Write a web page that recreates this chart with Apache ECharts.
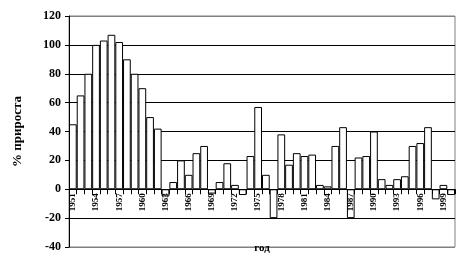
<!DOCTYPE html>
<html><head><meta charset="utf-8">
<script src="https://cdn.jsdelivr.net/npm/echarts@6/dist/echarts.min.js"></script>
<style>html,body{margin:0;padding:0;background:#fff}#c{width:470px;height:264px}</style>
</head><body><div id="c"></div>
<script>
const years = ['1951','1952','1953','1954','1955','1956','1957','1958','1959','1960',
  '1961','1962','1963','1964','1965','1966','1967','1968','1969','1970',
  '1971','1972','1973','1974','1975','1976','1977','1978','1979','1980',
  '1981','1982','1983','1984','1985','1986','1987','1988','1989','1990',
  '1991','1992','1993','1994','1995','1996','1997','1998','1999','2000'];
const growth = [45, 65, 80, 100, 103, 107, 102, 90, 80, 70,
  50, 42, -5, 5, 20, 10, 25, 30, -3, 5,
  18, 3, -4, 23, 57, 10, -20, 38, 17, 25,
  23, 24, 3, 2, 30, 43, -20, 22, 23, 40,
  7, 3, 7, 9, 30, 32, 43, -7, 3, -4];
const yMin = -40, yMax = 120, yStep = 20;
const yTitle = '% прироста';
const xTitle = 'год';

const font = '"Liberation Serif", "Times New Roman", serif';
const gridTop = 16, gridBottom = 17, H = 264;
const plotH = H - gridTop - gridBottom;
// distance from plot bottom (yMin) up to the zero line, from the y scale
const zeroOffset = plotH * (0 - yMin) / (yMax - yMin);

const chart = echarts.init(document.getElementById('c'), null, {renderer: 'canvas'});
chart.setOption({
  animation: false,
  backgroundColor: '#fff',
  grid: {left: 69, right: 15, top: gridTop, bottom: gridBottom, containLabel: false, outerBoundsMode: 'none',
    show: true, borderColor: '#808080', borderWidth: 1, backgroundColor: 'transparent'},
  xAxis: {
    type: 'category', data: years, boundaryGap: true, position: 'bottom', offset: -zeroOffset, z: 10,
    axisLine: {onZero: false, lineStyle: {color: '#000', width: 1}},
    axisTick: {show: true, interval: 0, length: 5, lineStyle: {color: '#000'}},
    axisLabel: {interval: 2, rotate: 90, margin: 4, fontFamily: font, fontWeight: 'bold', fontSize: 9, color: '#000'},
    name: xTitle, nameLocation: 'middle', nameGap: 53,
    nameTextStyle: {fontFamily: font, fontWeight: 'bold', fontSize: 11, color: '#000'}
  },
  yAxis: {
    type: 'value', min: yMin, max: yMax, interval: yStep,
    axisLine: {show: true, lineStyle: {color: '#000'}},
    axisTick: {show: true, length: 4, lineStyle: {color: '#000'}},
    axisLabel: {margin: 8, fontFamily: font, fontWeight: 'bold', fontSize: 12, color: '#000'},
    splitLine: {show: true, lineStyle: {color: ['#808080','#000','#000','#000','#000','#000','#000','#000','#808080'], width: 1}},
    name: yTitle, nameLocation: 'middle', nameGap: 45, nameRotate: 90,
    nameTextStyle: {fontFamily: font, fontWeight: 'bold', fontSize: 13, color: '#000'}
  },
  series: [{
    type: 'bar', data: growth, barCategoryGap: '0%',
    itemStyle: {color: '#fff', borderColor: '#000', borderWidth: 1}
  }]
});
</script></body></html>
